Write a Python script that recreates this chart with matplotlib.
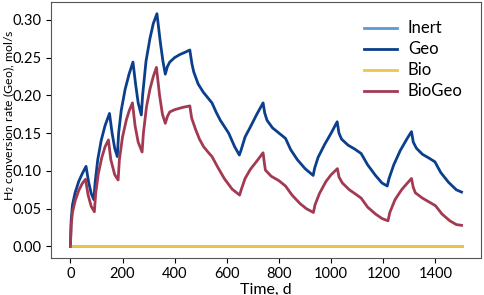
import numpy as np
import matplotlib
matplotlib.use('Agg')
import matplotlib.pyplot as plt

plt.rcParams.update({'font.size': 11, 'font.family': 'Lato',
                     'mathtext.fontset': 'custom', 'mathtext.rm': 'Lato',
                     'mathtext.it': 'Lato:italic'})

# time axis for the flat series
t_flat = [0, 1500]
inert = [0.0, 0.0]
bio = [0.0, 0.0]

t_geo = [0, 3, 8, 18, 32, 45, 60, 70, 80, 90, 95, 105, 118, 133, 150, 160, 170, 180,
         185, 195, 210, 225, 240, 250, 260, 272, 277, 290, 305, 318, 332, 345, 355, 364,
         372, 381, 400, 420, 440, 458, 466, 473, 490, 510, 543, 560, 575, 607, 630, 648,
         655, 670, 690, 715, 739, 745, 754, 775, 800, 825, 845, 870, 900, 931,
         937, 950, 975, 1000, 1023, 1030, 1040, 1065, 1090, 1115, 1140, 1170, 1195, 1215,
         1222, 1240, 1265, 1290, 1308, 1315, 1327, 1350, 1375, 1398, 1420, 1450, 1480, 1500]
geo = [0.0, 0.035, 0.055, 0.071, 0.086, 0.096, 0.106, 0.085, 0.070, 0.062, 0.085, 0.115,
       0.140, 0.160, 0.176, 0.150, 0.130, 0.119, 0.150, 0.180, 0.208, 0.228, 0.244, 0.215,
       0.190, 0.174, 0.200, 0.245, 0.275, 0.295, 0.308, 0.270, 0.245, 0.228,
       0.238, 0.244, 0.250, 0.254, 0.257, 0.260, 0.242, 0.231, 0.215, 0.204, 0.190, 0.177,
       0.167, 0.150, 0.132, 0.121, 0.128, 0.145, 0.158, 0.175, 0.190, 0.177, 0.167, 0.157,
       0.150, 0.143, 0.128, 0.115, 0.103, 0.094, 0.104, 0.118, 0.135, 0.150, 0.165,
       0.150, 0.142, 0.134, 0.129, 0.123, 0.108, 0.094, 0.084, 0.080,
       0.090, 0.108, 0.127, 0.142, 0.152, 0.138, 0.130, 0.122, 0.117, 0.112, 0.098, 0.085,
       0.075, 0.072]

t_biogeo = [0, 3, 8, 18, 32, 45, 58, 68, 80, 92, 97, 107, 120, 133, 146, 155, 170, 183,
            188, 200, 215, 226, 238, 248, 260, 275, 280, 292, 305, 318, 330, 342, 353, 364,
            372, 381, 400, 430, 458, 465, 480, 495, 511, 530, 543, 565, 590, 620, 649,
            655, 670, 690, 715, 739, 744, 748, 770, 800, 825, 850, 880, 905, 932,
            938, 955, 980, 1000, 1024, 1030, 1043, 1070, 1095, 1115, 1140, 1170, 1195, 1218,
            1225, 1245, 1270, 1290, 1308, 1315, 1323, 1350, 1375, 1400, 1425, 1455, 1480, 1500]
biogeo = [0.0, 0.028, 0.045, 0.060, 0.074, 0.083, 0.089, 0.068, 0.053, 0.046, 0.070,
          0.096, 0.117, 0.132, 0.141, 0.115, 0.095, 0.088, 0.115, 0.145, 0.168, 0.180,
          0.190, 0.160, 0.138, 0.125, 0.150, 0.185, 0.208, 0.225, 0.237, 0.200, 0.175,
          0.163, 0.172, 0.178, 0.181, 0.184, 0.186, 0.170, 0.155, 0.142, 0.132, 0.124,
          0.119, 0.105, 0.090, 0.076, 0.068, 0.075, 0.090, 0.102, 0.113, 0.124, 0.110,
          0.101, 0.093, 0.087, 0.080, 0.068, 0.057, 0.050, 0.045, 0.055, 0.070, 0.086,
          0.095, 0.103, 0.092, 0.084, 0.075, 0.069, 0.064, 0.052, 0.043, 0.037, 0.034,
          0.045, 0.062, 0.075, 0.083, 0.090, 0.078, 0.071, 0.064, 0.059, 0.054, 0.043,
          0.034, 0.029, 0.028]

fig = plt.figure(figsize=(4.84, 2.95), dpi=100)
ax = fig.add_axes([0.105, 0.125, 0.889, 0.868])

ax.plot(t_flat, inert, color='#5b9bd5', lw=2, label='Inert')
ax.plot(t_geo, geo, color='#0b3f8c', lw=2, label='Geo')
ax.plot(t_flat, bio, color='#ecc64a', lw=2, label='Bio')
ax.plot(t_biogeo, biogeo, color='#a23a52', lw=2, label='BioGeo')

ax.set_xticks([0, 200, 400, 600, 800, 1000, 1200, 1400])
ax.set_yticks([0.0, 0.05, 0.10, 0.15, 0.20, 0.25, 0.30])
ax.yaxis.set_major_formatter(matplotlib.ticker.FormatStrFormatter('%.2f'))
ax.tick_params(labelsize=10.5, pad=3)
ax.set_xlabel('Time, d', labelpad=1, fontsize=11.5)
ax.set_ylabel('H$_2$ conversion rate (Geo), mol/s', fontsize=8.8)
ax.yaxis.set_label_coords(-0.079, 0.56)
for s in ax.spines.values():
    s.set_color('#555555')
ax.legend(frameon=False, loc='upper right', fontsize=12, handlelength=2.0,
          handletextpad=0.65, labelspacing=0.3, borderaxespad=0.7)

fig.savefig('out.png', dpi=100)
